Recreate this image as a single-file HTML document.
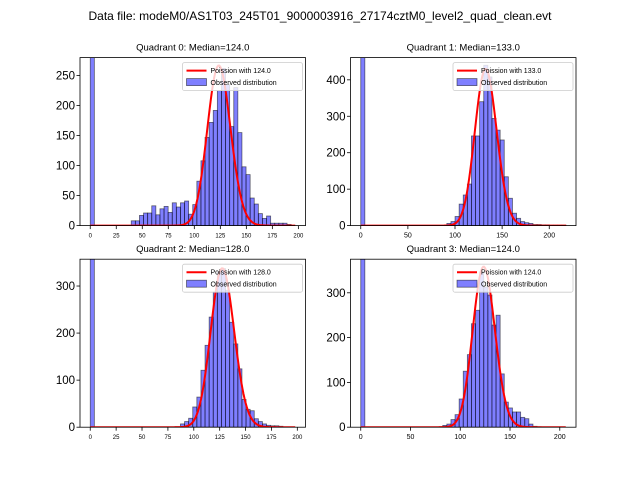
<!DOCTYPE html>
<html><head><meta charset="utf-8"><style>
body{margin:0;background:#fff}
svg{display:block;font-family:"Liberation Sans","DejaVu Sans",sans-serif}
</style></head><body>
<svg id="fig" width="640" height="480" viewBox="0 0 640 480">
<rect width="640" height="480" fill="#fff"/>
<text x="320" y="20" font-size="12" text-anchor="middle">Data file: modeM0/AS1T03_245T01_9000003916_27174cztM0_level2_quad_clean.evt</text>
</svg>
<script>
// Quadrant 0
const q0Start = 10;
const q0Counts = [8,8,17,21,21,33,18,28,32,22,38,31,38,41,19,35,74,108,147,172,192,225,262,235,165,230,155,98,85,46,36,20,12,16,4,4,4,4,2];
// Quadrant 1
const q1Start = 21;
const q1Counts = [6,11,25,59,84,114,246,246,340,440,408,294,262,235,134,75,34,20,11,8,6,3,3,2,2,1,1,1,1];
// Quadrant 2
const q2Start = 22;
const q2Counts = [7,12,19,43,64,121,174,234,287,330,337,291,223,177,124,59,38,35,18,12,7,4,3,3,2];
// Quadrant 3
const q3Start = 20;
const q3Counts = [4,7,17,28,63,125,162,231,261,347,313,295,228,250,119,56,43,34,34,22,19,7,2,1];
const zeroBin = 2000;
const medians = [124, 133, 128, 124];
const yTicks0 = [0,50,100,150,200,250];
const yTicks1 = [0,100,200,300,400];
const yTicks2 = [0,100,200,300];
const yTicks3 = [0,100,200,300];
const xTicks0 = [0,25,50,75,100,125,150,175,200];
const xTicks1 = [0,50,100,150,200];
const xTicks2 = [0,25,50,75,100,125,150,175,200];
const xTicks3 = [0,50,100,150,200];

const NS='http://www.w3.org/2000/svg';
const svg=document.getElementById('fig');
function mk(tag,attrs,parent){const e=document.createElementNS(NS,tag);for(const k in attrs)e.setAttribute(k,attrs[k]);(parent||svg).appendChild(e);return e;}
function lnFact(k){let s=0;for(let i=2;i<=k;i++)s+=Math.log(i);return s;}
function pois(k,l){return Math.exp(k*Math.log(l)-l-lnFact(k));}

const panels=[
 {x0:80,y0:57.6,w:225.5,h:168,dmax:197,ymax:280,start:q0Start,counts:q0Counts,yt:yTicks0,xt:xTicks0,scale:7450,xfs:6},
 {x0:350.5,y0:57.6,w:225.5,h:168,dmax:217.5,ymax:461,start:q1Start,counts:q1Counts,yt:yTicks1,xt:xTicks1,scale:12430,xfs:7},
 {x0:80,y0:259.2,w:225.5,h:168,dmax:198,ymax:357,start:q2Start,counts:q2Counts,yt:yTicks2,xt:xTicks2,scale:9580,xfs:6},
 {x0:350.5,y0:259.2,w:225.5,h:168,dmax:206,ymax:375,start:q3Start,counts:q3Counts,yt:yTicks3,xt:xTicks3,scale:10000,xfs:7}
];
panels.forEach((p,qi)=>{
 const g=mk('g',{});
 
 
 const xmin=-0.05*p.dmax,xmax=1.05*p.dmax;
 const X=v=>p.x0+(v-xmin)/(xmax-xmin)*p.w;
 const Y=c=>p.y0+p.h-Math.min(c,p.ymax*1.1)/p.ymax*p.h;
 const bw=p.dmax/50;
 const clip=mk('clipPath',{id:'c'+qi},g);
 mk('rect',{x:p.x0,y:p.y0,width:p.w,height:p.h},clip);
 const bars=mk('g',{'clip-path':'url(#c'+qi+')'},g);
 const all=[[0,zeroBin]].concat(p.counts.map((c,i)=>[p.start+i,c]));
 all.forEach(([bi,c])=>{
  const r=mk('rect',{x:X(bi*bw),y:Y(c),width:X((bi+1)*bw)-X(bi*bw),height:Y(0)-Y(c),fill:'rgba(0,0,255,0.5)',stroke:'rgba(0,0,0,0.55)','stroke-width':0.8},bars);
  
  
 });
 let d='';
 for(let k=0;k<=Math.round(p.dmax);k++){const v=p.scale*pois(k,medians[qi]);d+=(k?'L':'M')+X(k).toFixed(2)+','+Y(v).toFixed(2);}
 const pl=mk('path',{d:d,fill:'none',stroke:'red','stroke-width':2},bars);
 
 
 mk('rect',{x:p.x0,y:p.y0,width:p.w,height:p.h,fill:'none',stroke:'#000','stroke-width':0.8},g);
 p.yt.forEach(t=>{const y=Y(t);mk('line',{x1:p.x0-3.5,x2:p.x0,y1:y,y2:y,stroke:'#000','stroke-width':0.8},g);
  const tx=mk('text',{x:p.x0-5,y:y+4,'font-size':11.5,'text-anchor':'end'},g);tx.textContent=t;
  });
 p.xt.forEach(t=>{const x=X(t);mk('line',{x1:x,x2:x,y1:p.y0+p.h,y2:p.y0+p.h+3.5,stroke:'#000','stroke-width':0.8},g);
  const tx=mk('text',{x:x,y:p.y0+p.h+12,'font-size':p.xfs,'text-anchor':'middle'},g);tx.textContent=t;
  });
 const tt=mk('text',{x:p.x0+p.w/2,y:p.y0-7,'font-size':9.5,'text-anchor':'middle'},g);
 tt.textContent='Quadrant '+qi+': Median='+medians[qi].toFixed(1);
 
 const lg=mk('g',{},g);
 
 const lx=p.x0+p.w-123,ly=p.y0+5;
 mk('rect',{x:lx,y:ly,width:120,height:28,fill:'rgba(255,255,255,0.8)',stroke:'#ccc','stroke-width':0.8,rx:2},lg);
 mk('line',{x1:lx+4,x2:lx+24,y1:ly+8,y2:ly+8,stroke:'red','stroke-width':2},lg);
 const t1=mk('text',{x:lx+28,y:ly+10.5,'font-size':7},lg);t1.textContent='Poission with '+medians[qi].toFixed(1);
 mk('rect',{x:lx+4,y:ly+16,width:20,height:7,fill:'rgba(0,0,255,0.5)',stroke:'rgba(0,0,0,0.55)','stroke-width':0.8},lg);
 const t2=mk('text',{x:lx+28,y:ly+22.5,'font-size':7},lg);t2.textContent='Observed distribution';
});
</script>
</body></html>
